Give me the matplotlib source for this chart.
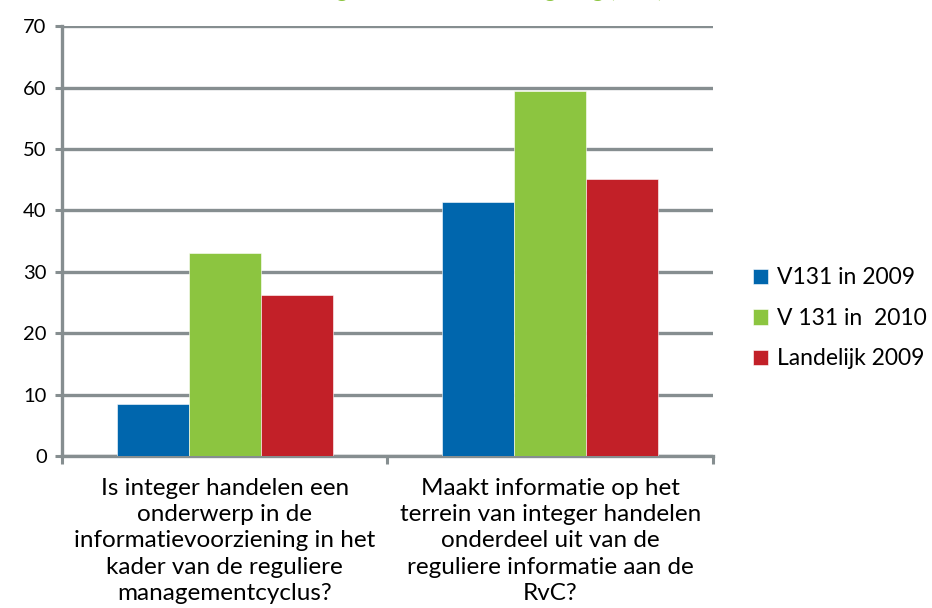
import matplotlib.pyplot as plt
import numpy as np

plt.rcParams["font.family"] = ["Lato", "DejaVu Sans"]

CATEGORIES = [
    "Is integer handelen een\nonderwerp in de\ninformatievoorziening in het\nkader van de reguliere\nmanagementcyclus?",
    "Maakt informatie op het\nterrein van integer handelen\nonderdeel uit van de\nreguliere informatie aan de\nRvC?",
]
SERIES = ["V131 in 2009", "V 131 in  2010", "Landelijk 2009"]
VALUES = [
    [8.5, 41.4],   # V131 in 2009
    [33.0, 59.4],  # V 131 in 2010
    [26.2, 45.1],  # Landelijk 2009
]
COLORS = ["#0066ad", "#8cc540", "#c22028"]
YTICKS = [0, 10, 20, 30, 40, 50, 60, 70]
GRID = "#868e90"

fig = plt.figure(figsize=(9.32, 6.08), dpi=100)
ax = fig.add_axes([0.0665, 0.25, 0.6985, 0.707])

x = np.arange(len(CATEGORIES))
width = 0.221
for i, (name, vals, col) in enumerate(zip(SERIES, VALUES, COLORS)):
    ax.bar(x + (i - 1) * width, vals, width, color=col, label=name,
           edgecolor="white", linewidth=0.4, zorder=3)

ax.set_xlim(-0.5, len(CATEGORIES) - 0.5)
ax.set_ylim(0, 70)
ax.set_yticks(YTICKS)
ax.yaxis.grid(True, color=GRID, linewidth=2.4, zorder=0)
ax.set_axisbelow(True)

ax.set_xticks(np.arange(-0.5, len(CATEGORIES)), labels=[])
ax.set_xticks(x, labels=CATEGORIES, minor=True)
ax.tick_params(axis="x", which="minor", length=0, pad=16, labelsize=17.5)
ax.tick_params(axis="x", which="major", length=6, width=2.2, color=GRID)
ax.tick_params(axis="y", length=5, width=2.2, color=GRID, labelsize=14.5, pad=6)
for lbl in ax.get_xticklabels(minor=True):
    lbl.set_linespacing(1.3)

for side in ("top", "right"):
    ax.spines[side].set_visible(False)
for side in ("left", "bottom"):
    ax.spines[side].set_color(GRID)
    ax.spines[side].set_linewidth(2.4)

ax.legend(loc="center left", bbox_to_anchor=(1.03, 0.32), frameon=False,
          fontsize=16.5, handlelength=0.65, handleheight=0.65, handletextpad=0.4,
          labelspacing=0.85)

# title sits mostly above the canvas in the original; only descenders show
fig.text(0.515, 1.016, "Integer handelen in de regeling (in %)",
         color="#8cc540", fontsize=16, fontweight="bold", ha="center", va="center")

fig.savefig("out.png", dpi=100)
